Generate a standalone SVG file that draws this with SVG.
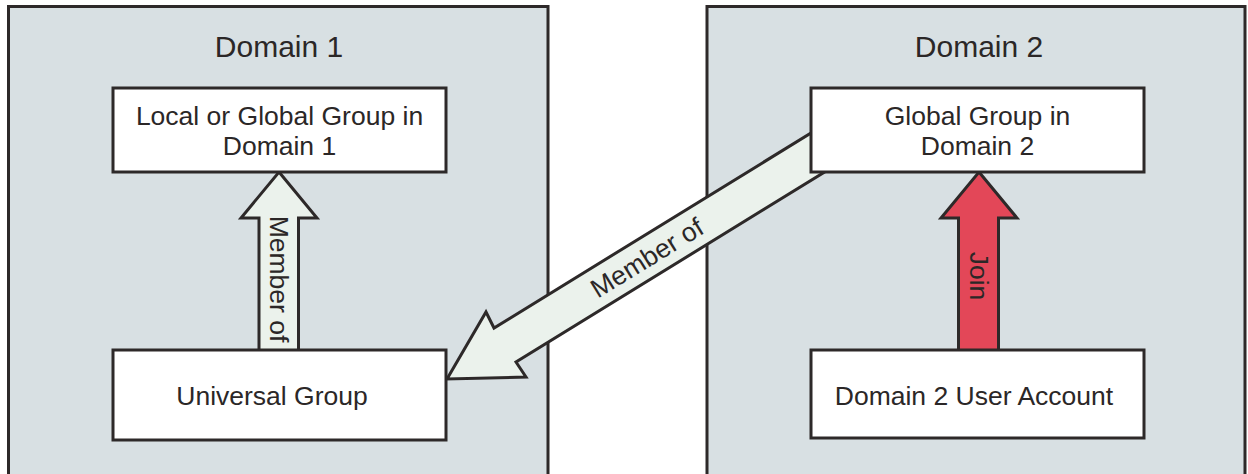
<svg xmlns="http://www.w3.org/2000/svg" width="1248" height="474" viewBox="0 0 1248 474">
  <defs>
    <style>
      .domain { fill: #d8e0e3; stroke: #2d2929; stroke-width: 3; }
      .node { fill: #ffffff; stroke: #2d2929; stroke-width: 3; }
      .arrow { fill: #ebf2ec; stroke: #2d2929; stroke-width: 3; stroke-linejoin: miter; }
      .join { fill: #e34758; stroke: #2d2929; stroke-width: 3; stroke-linejoin: miter; }
      .title { font-family: "Liberation Sans", Arial, sans-serif; font-size: 30px; fill: #2b2727; text-anchor: middle; }
      .label { font-family: "Liberation Sans", Arial, sans-serif; font-size: 26.5px; fill: #2b2727; text-anchor: middle; }
    </style>
  </defs>
  <rect x="0" y="0" width="1248" height="474" fill="#ffffff"/>

  <g id="domain1">
    <rect class="domain" x="8.5" y="6.5" width="539.5" height="480"/>
    <text class="title" x="279" y="57">Domain 1</text>
  </g>
  <g id="domain2">
    <rect class="domain" x="707" y="6.5" width="538" height="480"/>
    <text class="title" x="979" y="57">Domain 2</text>
  </g>

  <g id="connectors">
    <g id="edge-member-of-1">
      <polygon class="arrow" points="279,172 317,218 298.5,218 298.5,356 259,356 259,218 241,218"/>
      <text class="label" transform="translate(278,279) rotate(90)" x="0" y="8">Member of</text>
    </g>
    <g id="edge-member-of-2">
      <polygon class="arrow" points="447,379 486,312 494,328 850,109 862,149 516,362 526,377"/>
      <text class="label" transform="translate(647,258) rotate(-31.6)" x="0" y="9">Member of</text>
    </g>
    <g id="edge-join">
      <polygon class="join" points="979,172 1017,218 998.5,218 998.5,356 958.5,356 958.5,218 941,218"/>
      <text class="label" transform="translate(978,276) rotate(90)" x="0" y="8">Join</text>
    </g>
  </g>

  <g id="local-global-group">
    <rect class="node" x="113" y="88" width="333" height="84"/>
    <text class="label" x="279.5" y="125">Local or Global Group in</text>
    <text class="label" x="279.5" y="155">Domain 1</text>
  </g>
  <g id="universal-group">
    <rect class="node" x="113" y="350" width="333" height="90"/>
    <text class="label" x="272" y="405">Universal Group</text>
  </g>
  <g id="global-group-d2">
    <rect class="node" x="811" y="88" width="333" height="84"/>
    <text class="label" x="977.5" y="125">Global Group in</text>
    <text class="label" x="977.5" y="155">Domain 2</text>
  </g>
  <g id="d2-user-account">
    <rect class="node" x="811" y="350" width="333" height="88"/>
    <text class="label" x="974" y="405">Domain 2 User Account</text>
  </g>
</svg>
